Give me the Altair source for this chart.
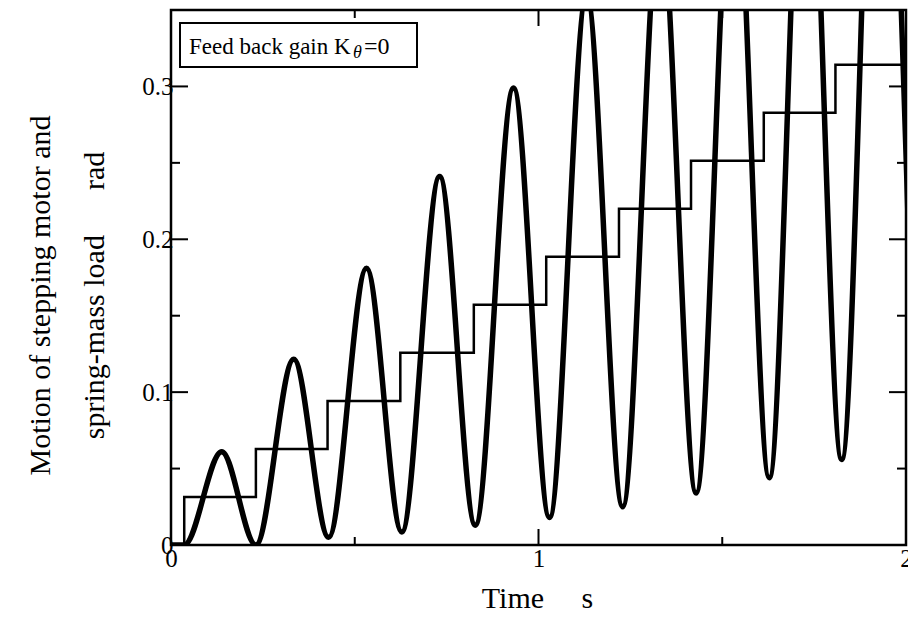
import altair as alt
import pandas as pd

# ---- data ----
# commanded stepping-motor position (staircase)
step_t = [0.0, 0.036, 0.231, 0.426, 0.624, 0.824, 1.021, 1.219, 1.415, 1.613, 1.808, 2.0]
step_v = [0.0, 0.0314, 0.0628, 0.0942, 0.1257, 0.1571, 0.1885, 0.2199, 0.2513, 0.2827, 0.3142, 0.3142]

# spring-mass load response: start, then alternating peaks / troughs
load_t = [0.0, 0.036, 0.138, 0.231, 0.334, 0.429, 0.532, 0.628, 0.731, 0.828, 0.932,
          1.030, 1.131, 1.229, 1.331, 1.429, 1.531, 1.628, 1.728, 1.825, 1.927, 2.024]
load_v = [0.0, 0.0, 0.061, 0.0, 0.1216, 0.005, 0.181, 0.0085, 0.241, 0.013, 0.299,
          0.018, 0.36, 0.025, 0.415, 0.034, 0.47, 0.044, 0.53, 0.056, 0.59, 0.068]

x_labels = [0, 1, 2]
y_labels = [0, 0.1, 0.2, 0.3]
x_major_ticks = [1.0]
x_minor_ticks = [0.5, 1.5]
y_major_ticks = [0.1, 0.2, 0.3]
y_minor_ticks = [0.05, 0.15, 0.25]

NB = "\u00a0"
x_title = "Time" + NB * 5 + "s"
y_title = ["Motion of stepping motor and", "spring-mass load" + NB * 6 + "rad"]
legend_main = ["Feed back gain K"]
legend_sub = ["\u03b8"]
legend_end = ["=0"]

# ---- layout ----
W, H = 735, 535
FONT = "Liberation Serif"

xs = alt.Scale(domain=[0, 2], nice=False, zero=False)
ys = alt.Scale(domain=[0, 0.35], nice=False, zero=False)

x_axis = alt.Axis(
    values=x_labels, format="~g", title=x_title, grid=False, domain=False,
    ticks=False, labelFont=FONT, labelFontSize=25, labelColor="black",
    labelPadding=1, labelBaseline="top", labelFlush=False,
    titleFont=FONT, titleFontSize=30, titleFontWeight="normal", titleColor="black",
    titleX=366, titleY=62, titleBaseline="alphabetic", titleAlign="center")
y_axis = alt.Axis(
    values=y_labels, format="~g", title=y_title, grid=False, domain=False,
    ticks=False, labelFont=FONT, labelFontSize=25, labelColor="black",
    labelPadding=-2, labelFlush=False,
    titleFont=FONT, titleFontSize=30, titleFontWeight="normal", titleColor="black",
    titleLineHeight=54, titleAngle=270, titleX=-131, titleY=285,
    titleBaseline="middle", titleAlign="center")

X = lambda f: alt.X(f, scale=xs, axis=x_axis)
Y = lambda f: alt.Y(f, scale=ys, axis=y_axis)

steps_df = pd.DataFrame({"t": step_t, "v": step_v})
load_df = pd.DataFrame({"t": load_t, "v": load_v})

load = alt.Chart(load_df).mark_line(
    color="black", strokeWidth=5.5, interpolate="monotone", clip=True
).encode(x=X("t:Q"), y=Y("v:Q"))

steps = alt.Chart(steps_df).mark_line(
    color="black", strokeWidth=2.5, interpolate="step-after", clip=True
).encode(x=X("t:Q"), y=Y("v:Q"))


def xticks(vals, length, top):
    df = pd.DataFrame({"t": vals})
    y0, y1 = (0, length) if top else (H, H - length)
    return alt.Chart(df).mark_rule(color="black", strokeWidth=2).encode(
        x=X("t:Q"), y=alt.value(y0), y2=alt.value(y1))


def yticks(vals, length, right):
    df = pd.DataFrame({"v": vals})
    x0, x1 = (W, W - length) if right else (0, length)
    return alt.Chart(df).mark_rule(color="black", strokeWidth=2).encode(
        y=Y("v:Q"), x=alt.value(x0), x2=alt.value(x1))


tick_layers = [
    xticks(x_major_ticks, 16, False), xticks(x_minor_ticks, 8, False),
    xticks(x_major_ticks, 16, True), xticks(x_minor_ticks, 8, True),
    yticks(y_major_ticks, 17, False), yticks(y_minor_ticks, 9, False),
    yticks(y_major_ticks, 17, True), yticks(y_minor_ticks, 9, True),
]

box = alt.Chart(pd.DataFrame({"k": [0]})).mark_rect(
    fill="white", stroke="black", strokeWidth=2
).encode(x=alt.value(9), x2=alt.value(246), y=alt.value(13), y2=alt.value(57))

t_main = alt.Chart(pd.DataFrame({"s": legend_main})).mark_text(
    font=FONT, fontSize=23, align="left", baseline="alphabetic", color="black"
).encode(text="s:N", x=alt.value(18), y=alt.value(44))

t_sub = alt.Chart(pd.DataFrame({"s": legend_sub})).mark_text(
    font=FONT, fontSize=18, fontStyle="italic", align="left", baseline="alphabetic", color="black"
).encode(text="s:N", x=alt.value(182), y=alt.value(48))

t_end = alt.Chart(pd.DataFrame({"s": legend_end})).mark_text(
    font=FONT, fontSize=24, align="left", baseline="alphabetic", color="black"
).encode(text="s:N", x=alt.value(193), y=alt.value(44))

chart = alt.layer(
    load, steps, *tick_layers, box, t_main, t_sub, t_end
).properties(
    width=W, height=H,
    autosize=alt.AutoSizeParams(type="none"),
    padding={"left": 163, "top": 2, "right": 2, "bottom": 69},
    background="white",
).configure_view(stroke="black", strokeWidth=2.5)

chart.save("out.html", embed_options={"renderer": "svg", "actions": False})
